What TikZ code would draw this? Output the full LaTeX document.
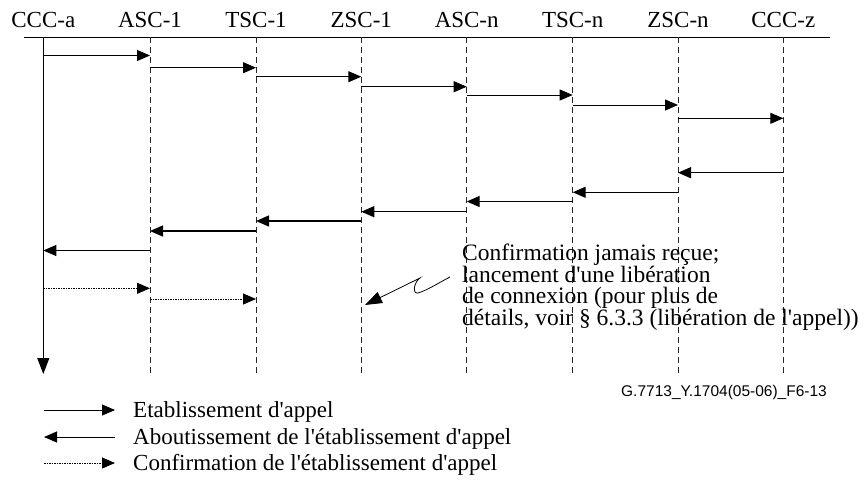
\documentclass[tikz,border=0pt]{standalone}
\usepackage{fontspec}
\setmainfont{Liberation Serif}[Ligatures=TeXOff]
\newfontfamily\idfont{Liberation Sans}
\usetikzlibrary{arrows.meta}
\begin{document}
\begin{tikzpicture}[x=1pt,y=-1pt,
  lbl/.style={font=\fontsize{23}{26}\selectfont, inner sep=0pt, anchor=base},
  txt/.style={font=\fontsize{23}{26}\selectfont, inner sep=0pt, anchor=base west},
  ann/.style={font=\fontsize{23.5}{26}\selectfont, inner sep=0pt, anchor=base west},
  life/.style={line width=0.9pt, dash pattern=on 6pt off 4pt, draw=black!85},
  tip/.style={-{Triangle[length=13pt,width=11pt]}},
  fwd/.style={tip, line width=0.9pt},
  ret/.style={tip, line width=1.4pt},
  conf/.style={tip, line width=0.9pt, dash pattern=on 1.5pt off 1pt},
]
\useasboundingbox (0,0) rectangle (868,488);

% header
\foreach \n/\x/\t in {la/43.3/CCC-a, lb/150/ASC-1, lc/256/TSC-1, ld/361.3/ZSC-1,
                      le/466.7/ASC-n, lf/572.7/TSC-n, lg/678/ZSC-n, lh/783.3/CCC-z}{
  \node[lbl] (h\n) at (\x,27.5) {\t};
  \coordinate (\n) at (\x,37);
}
\coordinate (hl0) at (24,37);
\coordinate (hl1) at (830,37);
\draw[line width=1pt] (hl0) -- (hl1);

% lifelines
\foreach \n in {lb,lc,ld,le,lf,lg,lh}{
  \draw[life] (\n) -- (\n |- 0,373);
}
\draw[line width=1pt, -{Triangle[length=16pt,width=12pt]}] (la) -- (la |- 0,374);

% call set-up (forward)
\draw[fwd] (la |- 0,55.5)  -- (lb |- 0,55.5);
\draw[fwd] (lb |- 0,67.7)  -- (lc |- 0,67.7);
\draw[fwd] (lc |- 0,76.7)  -- (ld |- 0,76.7);
\draw[fwd] (ld |- 0,86.7)  -- (le |- 0,86.7);
\draw[fwd] (le |- 0,95)    -- (lf |- 0,95);
\draw[fwd] (lf |- 0,105)   -- (lg |- 0,105);
\draw[fwd] (lg |- 0,118.3) -- (lh |- 0,118.3);

% completion (return)
\draw[ret] (lh |- 0,172.7) -- (lg |- 0,172.7);
\draw[ret] (lg |- 0,192.3) -- (lf |- 0,192.3);
\draw[ret] (lf |- 0,201.5) -- (le |- 0,201.5);
\draw[ret] (le |- 0,211.7) -- (ld |- 0,211.7);
\draw[ret] (ld |- 0,221)   -- (lc |- 0,221);
\draw[ret] (lc |- 0,231)   -- (lb |- 0,231);
\draw[fwd] (lb |- 0,250.5) -- (la |- 0,250.5);

% confirmation
\draw[conf] (la |- 0,288.3) -- (lb |- 0,288.3);
\draw[conf] (lb |- 0,299)   -- (lc |- 0,299);

% annotation
\node[ann] (n1) at (462,260.5) {Confirmation jamais reçue;};
\node[ann] (n2) at (462,282.2) {lancement d'une libération};
\node[ann] (n3) at (462,303.9) {de connexion (pour plus de};
\node[ann] (n4) at (462,325.6) {détails, voir § 6.3.3 (libération de l'appel))};
\coordinate (zs) at (450,277);
\coordinate (zt) at (365,305);
\draw[line width=0.8pt, -{Triangle[length=17pt,width=12pt]}]
  (zs) .. controls (440,282) and (428,290) .. (418,293)
       .. controls (412,294) and (414,282) .. (420,278) -- (zt);

% figure id
\node[font=\idfont\fontsize{15.5}{18}\selectfont, inner sep=0pt] (fid) at (724,392) {G.7713\_Y.1704(05-06)\_F6-13};

% legend
\foreach \i/\y in {1/410, 2/437, 3/463}{
  \coordinate (g\i a) at (44,\y);
  \coordinate (g\i b) at (115,\y);
}
\draw[fwd] (g1a) -- (g1b);
\draw[fwd] (g2b) -- (g2a);
\draw[conf] (g3a) -- (g3b);
\node[txt] (t1) at (133,417.5) {Etablissement d'appel};
\node[txt] (t2) at (133,444.5) {Aboutissement de l'établissement d'appel};
\node[txt] (t3) at (133,470.5) {Confirmation de l'établissement d'appel};
\end{tikzpicture}
\end{document}
